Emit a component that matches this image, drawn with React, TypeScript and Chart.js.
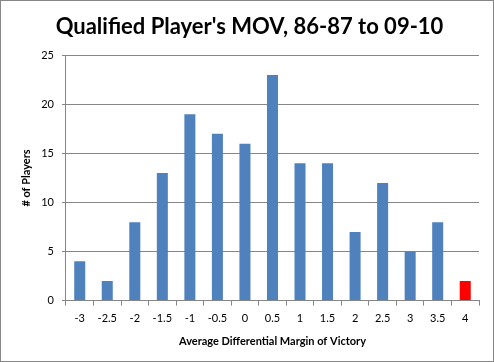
import React, { useEffect, useRef } from "react";
import { Chart, registerables } from "chart.js";

Chart.register(...registerables);

const categories = ["-3", "-2.5", "-2", "-1.5", "-1", "-0.5", "0", "0.5", "1", "1.5", "2", "2.5", "3", "3.5", "4"];
const players = [4, 2, 8, 13, 19, 17, 16, 23, 14, 14, 7, 12, 5, 8, 2];
const barColors = players.map((_, i) => (i === players.length - 1 ? "#FF0000" : "#4F81BD"));

const FONT = "Lato, 'Open Sans', sans-serif";

const framePlugin = {
  id: "frame",
  beforeDraw(chart: any) {
    const { ctx, width, height } = chart;
    ctx.save();
    ctx.fillStyle = "#ffffff";
    ctx.fillRect(0, 0, width, height);
    ctx.strokeStyle = "#868686";
    ctx.lineWidth = 1;
    ctx.strokeRect(0.5, 0.5, width - 1, height - 1);
    ctx.restore();
  },
};

export default function App() {
  const ref = useRef<HTMLCanvasElement>(null);
  useEffect(() => {
    document.body.style.margin = "0";
    const chart = new Chart(ref.current!, {
      type: "bar",
      data: {
        labels: categories,
        datasets: [
          {
            data: players,
            backgroundColor: barColors,
            barPercentage: 0.4,
            categoryPercentage: 1,
          },
        ],
      },
      options: {
        animation: false,
        responsive: false,
        layout: { padding: { left: 20, right: 15, top: 8, bottom: 14 } },
        plugins: {
          legend: { display: false },
          tooltip: { enabled: false },
          title: {
            display: true,
            text: "Qualified Player's MOV, 86-87 to 09-10",
            color: "#000",
            font: { family: FONT, size: 22, weight: "bold" },
            padding: { top: 6, bottom: 15 },
          },
        },
        scales: {
          x: {
            grid: {
              drawOnChartArea: false,
              drawTicks: true,
              tickLength: 5,
              color: "#868686",
              offset: true,
            },
            border: { color: "#868686" },
            ticks: { color: "#000", font: { family: FONT, size: 11 }, padding: 6, maxRotation: 0 },
            title: {
              display: true,
              text: "Average Differential Margin of Victory",
              color: "#000",
              font: { family: FONT, size: 11, weight: "bold" },
              padding: { top: 4, bottom: 0 },
            },
          },
          y: {
            min: 0,
            max: 25,
            ticks: { stepSize: 5, color: "#000", font: { family: FONT, size: 11 }, padding: 8 },
            grid: { color: "#868686", tickLength: 4 },
            border: { color: "#868686" },
            title: {
              display: true,
              text: "# of Players",
              color: "#000",
              font: { family: FONT, size: 11, weight: "bold" },
              padding: { top: 0, bottom: 0 },
            },
          },
        },
      },
      plugins: [framePlugin],
    });
    return () => chart.destroy();
  }, []);
  return <canvas ref={ref} width={494} height={362} style={{ display: "block" }} />;
}
